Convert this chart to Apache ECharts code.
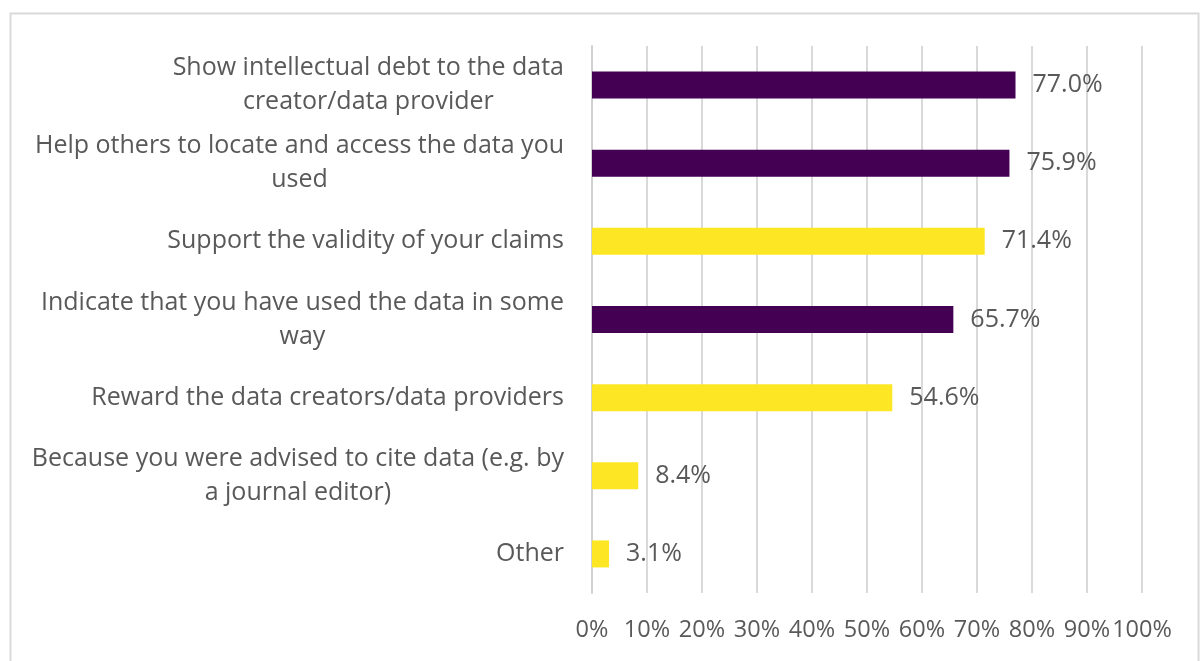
<!DOCTYPE html>
<html>
<head>
<meta charset="utf-8">
<style>
  html, body { margin: 0; padding: 0; background: #fff; }
  #chart { width: 1203px; height: 661px; }
</style>
<script src="https://cdn.jsdelivr.net/npm/echarts@6/dist/echarts.min.js"></script>
</head>
<body>
<div id="chart"></div>
<script>
// Reasons for citing data (share of respondents, %)
var categories = [
  'Show intellectual debt to the data\ncreator/data provider',
  'Help others to locate and access the data you\nused',
  'Support the validity of your claims',
  'Indicate that you have used the data in some\nway',
  'Reward the data creators/data providers',
  'Because you were advised to cite data (e.g. by\na journal editor)',
  'Other'
];
var values = [77.0, 75.9, 71.4, 65.7, 54.6, 8.4, 3.1];
// which bars belong to the dark group
var groups = ['dark', 'dark', 'light', 'dark', 'light', 'light', 'light'];
var xTicks = [0, 10, 20, 30, 40, 50, 60, 70, 80, 90, 100];

var groupColors = { dark: '#440154', light: '#FDE725' };
var textColor = '#595959';
var fontFamily = '"Open Sans", sans-serif';
var fontSize = 25;

var chart = echarts.init(document.getElementById('chart'));

var option = {
  animation: false,
  backgroundColor: '#fff',
  graphic: [{
    type: 'rect',
    left: 8, top: 11,
    shape: { width: 1188, height: 700 },
    style: { fill: 'none', stroke: '#d9d9d9', lineWidth: 2 },
    silent: true
  }],
  grid: { left: 592, right: 61, top: 46, bottom: 68 },
  xAxis: {
    type: 'value',
    min: xTicks[0],
    max: xTicks[xTicks.length - 1],
    interval: xTicks[1] - xTicks[0],
    axisLine: { show: false },
    axisTick: { show: false },
    splitLine: { lineStyle: { color: '#d9d9d9', width: 2 } },
    axisLabel: {
      formatter: '{value}%',
      color: textColor,
      fontFamily: fontFamily,
      fontSize: 23.5,
      margin: 25,
      showMinLabel: true,
      showMaxLabel: true,
      hideOverlap: false
    }
  },
  yAxis: {
    type: 'category',
    inverse: true,
    data: categories,
    axisLine: { lineStyle: { color: '#d0d0d0', width: 2 } },
    axisTick: { length: 8, lineStyle: { color: '#d0d0d0', width: 2 } },
    axisLabel: {
      margin: 28,
      color: textColor,
      fontFamily: fontFamily,
      fontSize: fontSize,
      lineHeight: 34,
      formatter: function (v) {
        return v.split('\n').map(function (s) { return '{c|' + s + '}'; }).join('\n');
      },
      rich: {
        c: { align: 'center', color: textColor, fontFamily: fontFamily, fontSize: fontSize, lineHeight: 34 }
      }
    }
  },
  series: [{
    type: 'bar',
    barWidth: 27,
    data: values.map(function (v, i) {
      return { value: v, itemStyle: { color: groupColors[groups[i]] } };
    }),
    label: {
      show: true,
      position: 'right',
      distance: 17,
      color: textColor,
      fontFamily: fontFamily,
      fontSize: fontSize,
      formatter: function (p) { return p.value.toFixed(1) + '%'; }
    }
  }]
};

chart.setOption(option);
</script>
</body>
</html>
